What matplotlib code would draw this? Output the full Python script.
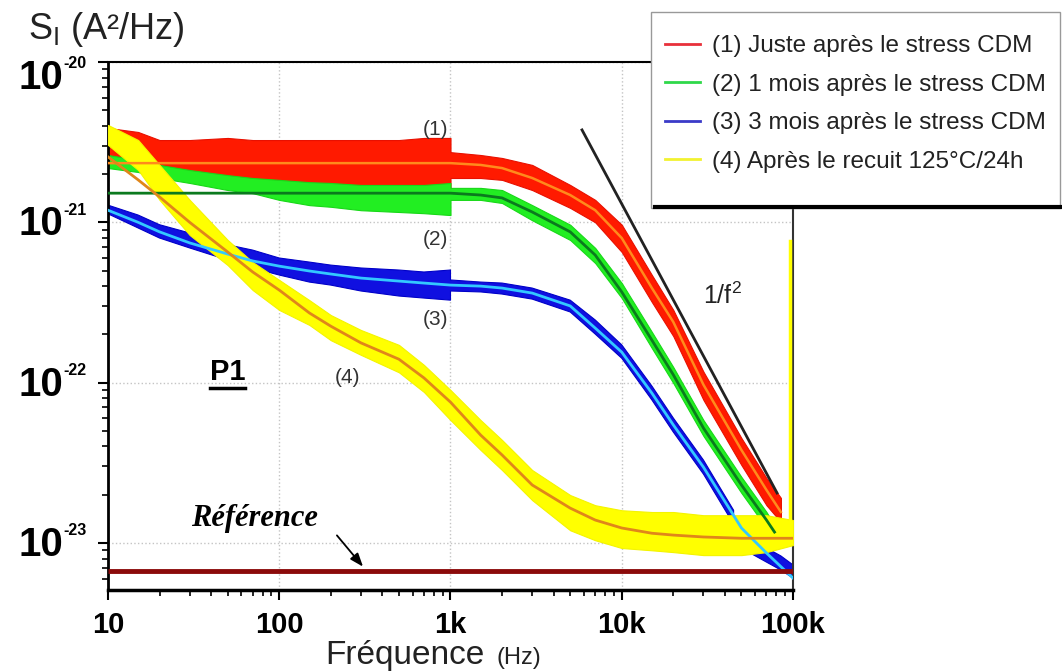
"""
Bruit basse fréquence S_I(f) de la structure P1 avant / après stress CDM et recuit.
Recreates the log-log noise spectrum figure and saves it as out.png.
"""

import matplotlib
matplotlib.use("Agg")
import matplotlib.pyplot as plt
import matplotlib.transforms as mtransforms
from matplotlib.lines import Line2D
from matplotlib.patches import Rectangle
import numpy as np

plt.rcParams["font.family"] = ["Liberation Sans", "DejaVu Sans"]
plt.rcParams["mathtext.fontset"] = "custom"
plt.rcParams["mathtext.rm"] = "Liberation Sans"
plt.rcParams["mathtext.bf"] = "Liberation Sans:bold"

# --- data (f in Hz, S_I in A^2/Hz) ---
# (1) juste après le stress CDM : enveloppe des mesures + ajustement
f_red = [10, 15, 20, 30, 50, 70, 100, 150, 200, 300, 500, 700, 1000,
         1000, 1500, 2000, 3000, 5000, 7000, 10000, 15000, 20000, 30000, 50000, 70000, 85000]
red_top = [3.88e-21, 3.66e-21, 3.26e-21, 3.26e-21, 3.36e-21, 3.26e-21, 3.26e-21, 3.26e-21, 3.26e-21,
           3.26e-21, 3.26e-21, 3.36e-21, 3.36e-21,
           2.74e-21, 2.63e-21, 2.52e-21, 2.28e-21, 1.71e-21, 1.38e-21, 9.66e-22, 4.69e-22, 2.84e-22,
           1.17e-22, 4.51e-23, 2.54e-23, 1.91e-23]
red_bot = [2.45e-21, 2.28e-21, 2.06e-21, 1.84e-21, 1.71e-21, 1.71e-21, 1.64e-21, 1.59e-21, 1.59e-21,
           1.59e-21, 1.55e-21, 1.52e-21, 1.48e-21,
           1.89e-21, 1.89e-21, 1.84e-21, 1.59e-21, 1.23e-21, 1.00e-21, 6.53e-22, 3.18e-22, 1.95e-22,
           7.8e-23, 3.06e-23, 1.72e-23, 1.35e-23]
f_red_fit = [10, 100, 1000, 1500, 2000, 3000, 5000, 7000, 10000, 15000, 20000, 30000, 50000, 70000, 85000]
red_fit = [2.34e-21, 2.34e-21, 2.34e-21, 2.28e-21, 2.18e-21, 1.89e-21, 1.48e-21, 1.19e-21, 7.98e-22,
           3.89e-22, 2.39e-22, 9.7e-23, 3.80e-23, 2.14e-23, 1.56e-23]

# (2) 1 mois après le stress CDM
f_green = [10, 15, 20, 30, 50, 70, 100, 150, 200, 300, 500, 700, 1000,
           1000, 1500, 2000, 3000, 5000, 7000, 10000, 15000, 20000, 30000, 50000, 70000, 78000]
green_top = [2.63e-21, 2.45e-21, 2.28e-21, 2.12e-21, 1.97e-21, 1.89e-21, 1.84e-21, 1.78e-21, 1.76e-21,
             1.71e-21, 1.71e-21, 1.71e-21, 1.76e-21,
             1.64e-21, 1.64e-21, 1.59e-21, 1.28e-21, 9.66e-22, 6.92e-22, 4.18e-22, 2.07e-22, 1.25e-22,
             5.84e-23, 2.58e-23, 1.56e-23, 1.29e-23]
green_bot = [2.18e-21, 2.06e-21, 1.89e-21, 1.76e-21, 1.59e-21, 1.52e-21, 1.38e-21, 1.28e-21, 1.25e-21,
             1.19e-21, 1.16e-21, 1.14e-21, 1.11e-21,
             1.38e-21, 1.38e-21, 1.32e-21, 1.03e-21, 7.76e-22, 5.57e-22, 3.37e-22, 1.64e-22, 9.94e-23,
             4.65e-23, 2.05e-23, 1.24e-23, 1.04e-23]
f_green_fit = [10, 100, 1000, 1500, 2000, 3000, 5000, 7000, 10000, 15000, 20000, 30000, 50000, 70000, 78000]
green_fit = [1.52e-21, 1.52e-21, 1.52e-21, 1.48e-21, 1.42e-21, 1.16e-21, 8.72e-22, 6.25e-22, 3.68e-22,
             1.84e-22, 1.12e-22, 5.21e-23, 2.30e-23, 1.39e-23, 1.17e-23]

# (3) 3 mois après le stress CDM (trou dans les mesures vers 50 kHz)
f_blue = [10, 15, 20, 30, 50, 70, 100, 150, 200, 300, 500, 700, 1000,
          1000, 1500, 2000, 3000, 5000, 7000, 10000, 15000, 20000, 30000, 45000, 50000,
          55000, 70000, 85000, 100000]
blue_top = [1.28e-21, 1.11e-21, 9.66e-22, 8.58e-22, 7.24e-22, 6.71e-22, 5.99e-22, 5.65e-22, 5.41e-22,
            5.19e-22, 5.04e-22, 4.90e-22, 5.04e-22,
            4.37e-22, 4.24e-22, 4.18e-22, 3.89e-22, 3.27e-22, 2.46e-22, 1.72e-22, 9.52e-23, 6.02e-23,
            3.29e-23, 1.60e-23, np.nan, 1.07e-23, 9.3e-24, 8.3e-24, 7.3e-24]
blue_bot = [1.13e-21, 9.22e-22, 7.98e-22, 6.92e-22, 5.82e-22, 5.19e-22, 4.69e-22, 4.24e-22, 4.06e-22,
            3.73e-22, 3.47e-22, 3.37e-22, 3.27e-22,
            3.73e-22, 3.68e-22, 3.57e-22, 3.32e-22, 2.76e-22, 2.01e-22, 1.42e-22, 7.8e-23, 4.92e-23,
            2.69e-23, 1.31e-23, np.nan, 8.77e-24, 7.6e-24, 6.78e-24, 6.04e-24]
f_blue_fit = [10, 15, 20, 30, 50, 70, 100, 150, 200, 300, 500, 700, 1000, 1500, 2000, 3000, 5000,
              7000, 10000, 15000, 20000, 30000, 50000, 70000, 100000]
blue_fit = [1.19e-21, 1.00e-21, 8.72e-22, 7.44e-22, 6.34e-22, 5.74e-22, 5.33e-22, 4.97e-22, 4.76e-22,
            4.49e-22, 4.30e-22, 4.18e-22, 4.06e-22, 4.00e-22, 3.89e-22, 3.62e-22, 3.01e-22, 2.19e-22,
            1.55e-22, 8.6e-23, 5.45e-23, 2.97e-23, 1.24e-23, 8.66e-24, 6.04e-24]

# (4) après le recuit 125°C/24h
f_yellow = [10, 15, 20, 30, 50, 70, 100, 150, 200, 300, 500, 700, 1000, 1500, 2000, 3000, 5000,
            7000, 10000, 15000, 20000, 30000, 50000, 70000, 100000]
yellow_top = [4.05e-21, 3.26e-21, 2.28e-21, 1.38e-21, 7.76e-22, 5.65e-22, 4.37e-22, 3.27e-22, 2.64e-22,
              2.13e-22, 1.72e-22, 1.29e-22, 9.0e-23, 5.84e-23, 4.39e-23, 2.85e-23, 1.99e-23, 1.72e-23,
              1.60e-23, 1.56e-23, 1.56e-23, 1.49e-23, 1.49e-23, 1.49e-23, 1.39e-23]
yellow_bot = [3.04e-21, 2.12e-21, 1.38e-21, 8.33e-22, 5.41e-22, 3.78e-22, 2.84e-22, 2.29e-22, 1.84e-22,
              1.49e-22, 1.16e-22, 8.74e-23, 5.84e-23, 3.80e-23, 2.85e-23, 1.85e-23, 1.20e-23, 1.04e-23,
              9.3e-24, 9.0e-24, 8.77e-24, 8.4e-24, 8.4e-24, 8.77e-24, 9.7e-24]
yellow_fit = [2.56e-21, 1.84e-21, 1.44e-21, 1.00e-21, 6.53e-22, 4.90e-22, 3.78e-22, 2.72e-22, 2.25e-22,
              1.77e-22, 1.40e-22, 1.07e-22, 7.56e-23, 4.71e-23, 3.54e-23, 2.30e-23, 1.65e-23, 1.39e-23,
              1.24e-23, 1.15e-23, 1.12e-23, 1.09e-23, 1.07e-23, 1.07e-23, 1.07e-23]
f_spike = [96000, 96000]
spike = [1.04e-23, 7.6e-22]

# référence et pente 1/f^2
f_ref = [10, 100000]
s_ref = [6.7e-24, 6.7e-24]
f_slope = [5860, 80700]
s_slope = [3.77e-21, 2.05e-23]

x_ticks = [10, 100, 1000, 10000, 100000]
x_tick_labels = ["10", "100", "1k", "10k", "100k"]
y_ticks = [1e-23, 1e-22, 1e-21, 1e-20]
y_tick_exponents = ["-23", "-22", "-21", "-20"]

legend_labels = ["(1) Juste après le stress CDM", "(2) 1 mois après le stress CDM",
                 "(3) 3 mois après le stress CDM", "(4) Après le recuit 125°C/24h"]
legend_colors = ["#e8303a", "#2fd84a", "#3a3ac8", "#f2f230"]


def plot_spectrum():
    fig = plt.figure(figsize=(10.62, 6.71), dpi=100)
    ax = fig.add_axes([108 / 1062, 81 / 671, 685 / 1062, 528 / 671])
    ax.set_xscale("log")
    ax.set_yscale("log")
    ax.set_xlim(10, 100000)
    ax.set_ylim(5.09e-24, 1e-20)

    # measured spectra as noisy bands
    ax.fill_between(f_red, red_bot, red_top, color="#ff1a00", lw=0.8, edgecolor="#e81000", zorder=2)
    ax.fill_between(f_green, green_bot, green_top, color="#22ee22", lw=0.8, edgecolor="#18d818", zorder=2)
    ax.fill_between(f_blue, blue_bot, blue_top, color="#1010e0", lw=0.8, edgecolor="#0000c8", zorder=2)
    ax.fill_between(f_yellow, yellow_bot, yellow_top, color="#ffff00", lw=0.8, edgecolor="#f4f400", zorder=3)
    ax.plot(f_spike, spike, color="#ffff00", lw=2.5, zorder=3)

    # fits
    ax.plot(f_red_fit, red_fit, color="#ff8a1c", lw=1.8, zorder=5)
    ax.plot(f_green_fit, green_fit, color="#0b7a1e", lw=2, zorder=5)
    ax.plot(f_blue_fit, blue_fit, color="#33c8ff", lw=2, zorder=4)
    ax.plot(f_yellow, yellow_fit, color="#e0861a", lw=2, zorder=5)

    ax.plot(f_slope, s_slope, color="#222222", lw=2, zorder=6)
    ax.plot(f_ref, s_ref, color="#8b0a0a", lw=3.5, zorder=6, solid_capstyle="butt")

    # axes styling
    ax.grid(True, which="major", ls=":", color="#c4c4c4", lw=1)
    ax.set_xticks(x_ticks)
    ax.set_xticklabels(x_tick_labels, fontsize=21, fontweight="bold")
    ax.set_yticks(y_ticks)
    ax.set_yticklabels([])
    ax.xaxis.set_minor_formatter(matplotlib.ticker.NullFormatter())
    ax.yaxis.set_minor_formatter(matplotlib.ticker.NullFormatter())
    ax.tick_params(which="major", length=7, width=1.5, direction="out")
    ax.tick_params(which="minor", length=4, width=1.2, direction="out")
    ax.tick_params(axis="x", which="major", pad=8)
    ax.spines["left"].set_linewidth(2)
    ax.spines["bottom"].set_linewidth(2.5)
    ax.spines["top"].set_linewidth(1.5)
    ax.spines["right"].set_linewidth(1.5)
    ax.spines["right"].set_color("#333333")

    # y tick labels drawn as "10" + small exponent
    ytrans = mtransforms.blended_transform_factory(ax.transAxes, ax.transData)
    for val, exp in zip(y_ticks, y_tick_exponents):
        shift = -14 if val == y_ticks[-1] else 0
        ax.annotate("10", xy=(0, val), xycoords=ytrans, xytext=(-45, -2 + shift),
                    textcoords="offset pixels", ha="right", va="center", fontsize=29,
                    fontweight="bold", annotation_clip=False)
        ax.annotate(exp, xy=(0, val), xycoords=ytrans, xytext=(-45, 12 + shift),
                    textcoords="offset pixels", ha="left", va="center", fontsize=11.5,
                    fontweight="bold", annotation_clip=False)

    # annotations
    ax.text(822, 3.77e-21, "(1)", fontsize=15, color="#333333", ha="center", va="center")
    ax.text(822, 7.76e-22, "(2)", fontsize=15, color="#333333", ha="center", va="center")
    ax.text(822, 2.46e-22, "(3)", fontsize=15, color="#333333", ha="center", va="center")
    ax.text(249, 1.08e-22, "(4)", fontsize=15, color="#333333", ha="center", va="center")
    ax.text(38500, 3.5e-22, r"1/f$^2$", fontsize=18, color="#222222", ha="center", va="center")
    p1 = ax.text(50, 1.16e-22, "P1", fontsize=21, fontweight="bold", ha="center", va="center")
    ax.text(72, 1.43e-23, "Référence", fontsize=22, fontweight="bold", fontstyle="italic",
            family="Liberation Serif", ha="center", va="center", zorder=7)
    ax.annotate("", xy=(316, 6.9e-24), xytext=(212, 1.15e-23),
                arrowprops=dict(arrowstyle="-|>,head_length=0.8,head_width=0.3", color="black", lw=1.3),
                zorder=7)

    # axis titles
    fig.text(28 / 1062, 1 - 39 / 671, r"S$_{\rm I}$ (A²/Hz)", fontsize=26, color="#222222", va="baseline")
    fig.text(485 / 1062, 1 - 664 / 671, "Fréquence", fontsize=24, color="#222222", ha="right", va="baseline")
    fig.text(497 / 1062, 1 - 664 / 671, "(Hz)", fontsize=17, color="#222222", ha="left", va="baseline")

    # legend box
    fig.add_artist(Rectangle((651 / 1062, 1 - 208 / 671), 409 / 1062, 196 / 671,
                             transform=fig.transFigure, facecolor="white", edgecolor="#999999", lw=1,
                             zorder=10))
    fig.add_artist(Line2D([655 / 1062, 1060 / 1062], [1 - 207 / 671] * 2, transform=fig.transFigure,
                          color="black", lw=3, zorder=11))
    handles = [Line2D([], [], color=c, lw=2) for c in legend_colors]
    leg = fig.legend(handles, legend_labels, loc="upper left", bbox_to_anchor=(665 / 1062, 1 - 35 / 671),
                     frameon=False, fontsize=17.5, handlelength=1.44, handletextpad=0.5, labelspacing=0.68,
                     borderaxespad=0, borderpad=0)
    leg.set_zorder(12)
    for txt in leg.get_texts():
        txt.set_color("#222222")

    # underline P1
    fig.canvas.draw()
    bb = p1.get_window_extent().transformed(fig.transFigure.inverted())
    fig.add_artist(Line2D([bb.x0, bb.x1], [bb.y0 - 0.003] * 2, transform=fig.transFigure,
                          color="black", lw=2.5))

    fig.savefig("out.png", dpi=100)


if __name__ == "__main__":
    plot_spectrum()
